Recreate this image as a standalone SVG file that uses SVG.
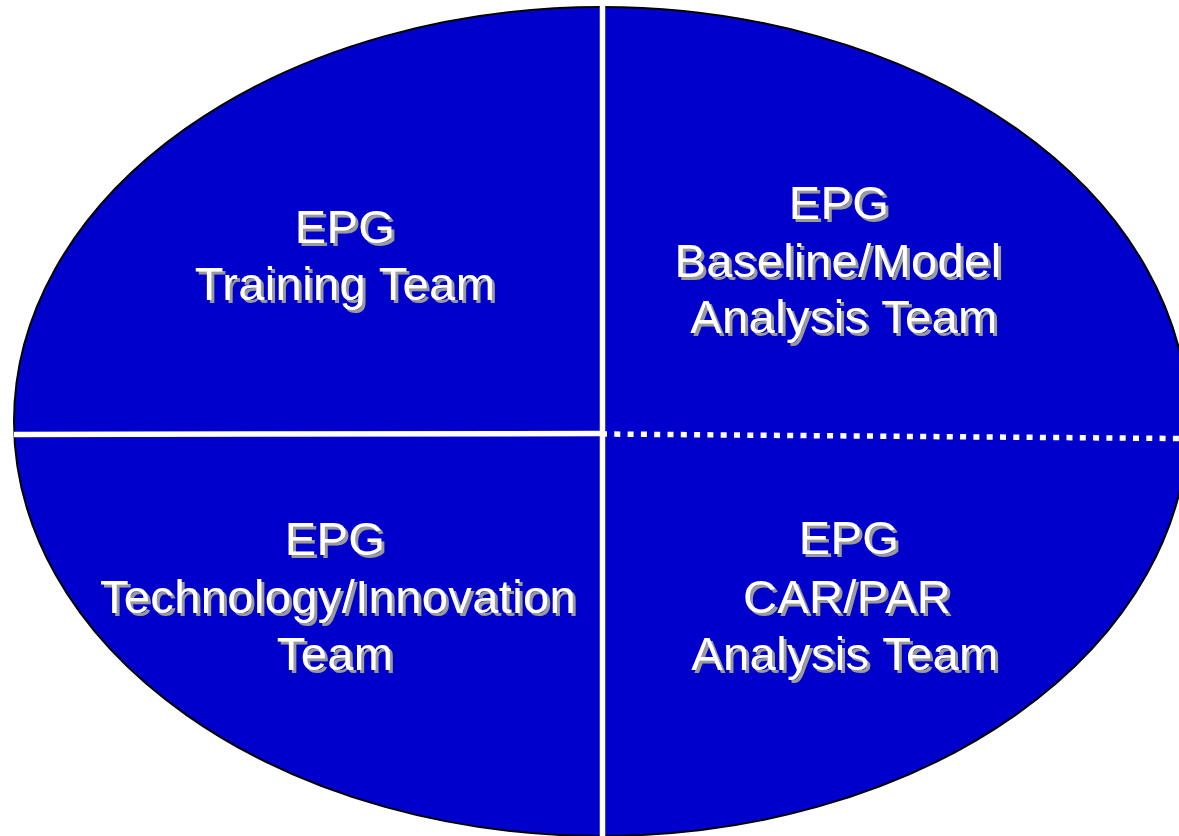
<svg xmlns="http://www.w3.org/2000/svg" width="1179" height="836" viewBox="0 0 1179 836">
  <style>
    .lbl { font-family: "Liberation Sans", Arial, sans-serif; font-size: 47px; letter-spacing: 0.4px; text-anchor: middle; fill: #ffffff; filter: url(#drop); }
    .div { stroke: #ffffff; stroke-width: 5.5; fill: none; }
  </style>
  <defs>
    <!-- hard gray drop shadow under the white labels -->
    <filter id="drop" x="-5%" y="-20%" width="110%" height="140%">
      <feOffset in="SourceAlpha" dx="2.5" dy="2.5" result="off"/>
      <feFlood flood-color="#9a9a9a"/>
      <feComposite in2="off" operator="in" result="shade"/>
      <feMerge>
        <feMergeNode in="shade"/>
        <feMergeNode in="SourceGraphic"/>
      </feMerge>
    </filter>
  </defs>
  <rect width="1179" height="836" fill="#ffffff"/>

  <!-- oval background -->
  <g id="oval">
    <ellipse cx="601" cy="421.5" rx="587" ry="414.5" fill="#0000cc" stroke="#000000" stroke-width="2"/>
  </g>

  <!-- quadrant dividers -->
  <g id="connectors">
    <line class="div" x1="14" y1="434.5" x2="603" y2="433.5"/>
    <line class="div" x1="602.5" y1="6" x2="602.5" y2="836"/>
    <line class="div" x1="601" y1="434" x2="1179" y2="438.5" stroke-dasharray="6 7.3"/>
  </g>

  <g id="training-team">
    <text class="lbl" x="345" y="243">EPG</text>
    <text class="lbl" x="345" y="300">Training Team</text>
  </g>

  <g id="baseline-model-team">
    <text class="lbl" x="839" y="219">EPG</text>
    <text class="lbl" x="838" y="277">Baseline/Model</text>
    <text class="lbl" x="844" y="333">Analysis Team</text>
  </g>

  <g id="technology-innovation-team">
    <text class="lbl" x="335" y="555">EPG</text>
    <text class="lbl" x="338" y="613">Technology/Innovation</text>
    <text class="lbl" x="335" y="670">Team</text>
  </g>

  <g id="car-par-team">
    <text class="lbl" x="849" y="554">EPG</text>
    <text class="lbl" x="847" y="613">CAR/PAR</text>
    <text class="lbl" x="845" y="670">Analysis Team</text>
  </g>
</svg>
